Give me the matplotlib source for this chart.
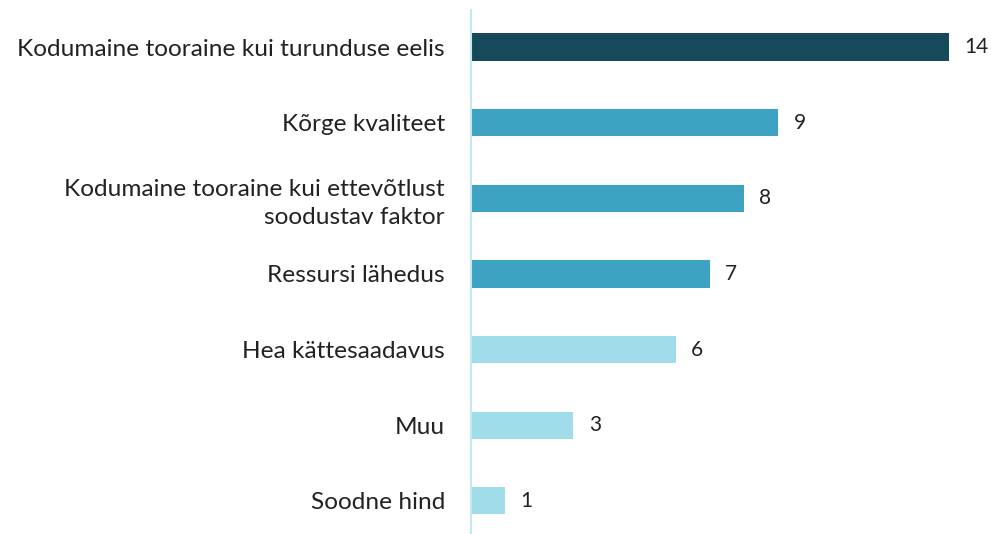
import matplotlib
matplotlib.use('Agg')
import matplotlib.pyplot as plt

categories = ["Kodumaine tooraine kui turunduse eelis", "Kõrge kvaliteet",
              "Kodumaine tooraine kui ettevõtlust\nsoodustav faktor", "Ressursi lähedus",
              "Hea kättesaadavus", "Muu", "Soodne hind"]
values = [14, 9, 8, 7, 6, 3, 1]
colors = ["#164a5a", "#3ea3c2", "#3ea3c2", "#3ea3c2", "#a1dcea", "#a1dcea", "#a1dcea"]

plt.rcParams['font.family'] = ['Lato', 'DejaVu Sans']

fig = plt.figure(figsize=(9.91, 5.34), dpi=100)
ax = fig.add_axes([471 / 991, 0, 520 / 991, 524 / 534])

y = list(range(len(categories)))
ax.barh(y, values, height=0.36, color=colors)
for yi, v in zip(y, values):
    ax.text(v + 0.45, yi, str(v), va='center', ha='left', fontsize=15, color='#222222')

ax.set_xlim(0, 520 / 34.14)
ax.set_ylim(6.44, -0.49)
ax.set_yticks(y)
ax.set_yticklabels(categories, fontsize=17.6, color='#222222', linespacing=1.4)
ax.tick_params(axis='y', length=0, pad=18.7)
ax.set_xticks([])
for s in ['top', 'right', 'bottom']:
    ax.spines[s].set_visible(False)
ax.spines['left'].set_color('#c5e8f2')
ax.spines['left'].set_linewidth(1.5)

plt.savefig('out.png', dpi=100)
